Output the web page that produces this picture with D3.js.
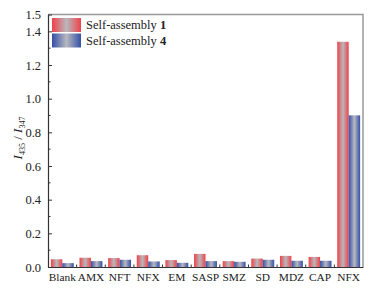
<!DOCTYPE html>
<html>
<head>
<meta charset="utf-8">
<script src="https://cdn.jsdelivr.net/npm/d3@7"></script>
<style>
  body { margin: 0; background: #fff; }
  svg { display: block; font-family: "Liberation Serif", "DejaVu Serif", serif; }
</style>
</head>
<body>
<div id="chart"></div>
<script>
// Data
const categories = ['Blank', 'AMX', 'NFT', 'NFX', 'EM', 'SASP', 'SMZ', 'SD', 'MDZ', 'CAP', 'NFX '];
const seriesNames = ['Self-assembly ', 'Self-assembly '];
const seriesBold = ['1', '4'];
const assembly1 = [0.046, 0.055, 0.053, 0.070, 0.041, 0.078, 0.035, 0.050, 0.066, 0.060, 1.338];
const assembly4 = [0.023, 0.035, 0.043, 0.033, 0.025, 0.035, 0.031, 0.043, 0.037, 0.037, 0.901];
const yTicks = [0.0, 0.2, 0.4, 0.6, 0.8, 1.0, 1.2, 1.4, 1.5];

const width = 382, height = 294;
const margin = { top: 14.5, right: 19, bottom: 27, left: 48 };
const serif = '"Liberation Serif", "DejaVu Serif", serif';

const svg = d3.select('#chart').append('svg')
    .attr('width', width)
    .attr('height', height);

// Gradients: coloured edges, grey middle
const defs = svg.append('defs');
const gradColors = [['#f0414a', '#b8b8bc'], ['#3450a6', '#b8b8c0']];
gradColors.forEach((c, i) => {
    const g = defs.append('linearGradient')
        .attr('id', 'grad' + i)
        .attr('x1', '0%').attr('x2', '100%')
        .attr('y1', '0%').attr('y2', '0%');
    g.append('stop').attr('offset', '0%').attr('stop-color', c[0]);
    g.append('stop').attr('offset', '50%').attr('stop-color', c[1]);
    g.append('stop').attr('offset', '100%').attr('stop-color', c[0]);
});

const x = d3.scaleBand()
    .domain(categories)
    .range([margin.left, width - margin.right])
    .paddingInner(0.2)
    .paddingOuter(0.1);

const xSub = d3.scaleBand()
    .domain([0, 1])
    .range([0, x.bandwidth()]);

const y = d3.scaleLinear()
    .domain([0, 1.5])
    .range([height - margin.bottom, margin.top]);

// Frame top / right
svg.append('path')
    .attr('d', `M${margin.left},${margin.top}H${width - margin.right}V${height - margin.bottom}`)
    .attr('fill', 'none')
    .attr('stroke', '#999')
    .attr('stroke-width', 1.5);

// Bars
const rows = categories.map((c, i) => ({ cat: c, vals: [assembly1[i], assembly4[i]] }));
const groups = svg.append('g').selectAll('g')
    .data(rows)
    .enter()
    .append('g')
    .attr('transform', d => `translate(${x(d.cat)},0)`);

groups.selectAll('rect')
    .data(d => d.vals.map((v, k) => ({ v, k })))
    .enter()
    .append('rect')
    .attr('x', d => xSub(d.k))
    .attr('width', xSub.bandwidth())
    .attr('y', d => y(d.v))
    .attr('height', d => y(0) - y(d.v))
    .attr('fill', d => `url(#grad${d.k})`);

// Y axis (ticks inside)
const yAxis = d3.axisLeft(y)
    .tickValues(yTicks)
    .tickSize(-4)
    .tickPadding(7)
    .tickFormat(d3.format('.1f'));

const yG = svg.append('g')
    .attr('transform', `translate(${margin.left},0)`)
    .call(yAxis)
    .attr('font-family', serif);
yG.select('.domain').attr('stroke', '#333').attr('stroke-width', 1.2);
yG.selectAll('.tick line').attr('stroke', '#333');
yG.selectAll('.tick text')
    .attr('font-size', 12.5)
    .attr('fill', '#222');
yG.selectAll('.tick').filter(d => d === 1.5).select('line').remove();

// minor ticks
const minor = d3.range(0.1, 1.5, 0.2);
svg.append('g').selectAll('line')
    .data(minor)
    .enter()
    .append('line')
    .attr('x1', margin.left)
    .attr('x2', margin.left + 2.5)
    .attr('y1', d => y(d))
    .attr('y2', d => y(d))
    .attr('stroke', '#333');

// X axis
const xAxis = d3.axisBottom(x).tickSize(0).tickPadding(6);
const xG = svg.append('g')
    .attr('transform', `translate(0,${height - margin.bottom})`)
    .call(xAxis)
    .attr('font-family', serif);
xG.select('.domain').attr('stroke', '#333').attr('stroke-width', 1.2);
xG.selectAll('.tick text')
    .attr('font-size', 11.4)
    .attr('fill', '#222');

// small separators between groups
const step = x.step();
svg.append('g').selectAll('line')
    .data(categories.slice(0, -1))
    .enter()
    .append('line')
    .attr('x1', d => x(d) + x.bandwidth() + (step - x.bandwidth()) / 2)
    .attr('x2', d => x(d) + x.bandwidth() + (step - x.bandwidth()) / 2)
    .attr('y1', y(0))
    .attr('y2', y(0) - 2.5)
    .attr('stroke', '#333');

// Y label
const yLabel = svg.append('text')
    .attr('transform', `translate(22,138) rotate(-90)`)
    .attr('text-anchor', 'middle')
    .attr('font-size', 13)
    .attr('fill', '#222');
yLabel.append('tspan').attr('font-style', 'italic').text('I');
yLabel.append('tspan').attr('font-size', 8).attr('dy', 3).text('435');
yLabel.append('tspan').attr('dy', -3).text(' / ');
yLabel.append('tspan').attr('font-style', 'italic').text('I');
yLabel.append('tspan').attr('font-size', 8).attr('dy', 3).text('347');

// Legend
const legend = svg.append('g').attr('transform', 'translate(52,18)');
seriesNames.forEach((name, i) => {
    const row = legend.append('g').attr('transform', `translate(0,${i * 15.5})`);
    row.append('rect')
        .attr('width', 29)
        .attr('height', 14)
        .attr('fill', `url(#grad${i})`);
    const t = row.append('text')
        .attr('x', 34)
        .attr('y', 11)
        .attr('font-size', 12.5)
        .attr('fill', '#222');
    t.append('tspan').text(name);
    t.append('tspan').attr('font-weight', 'bold').text(seriesBold[i]);
});
</script>
</body>
</html>
